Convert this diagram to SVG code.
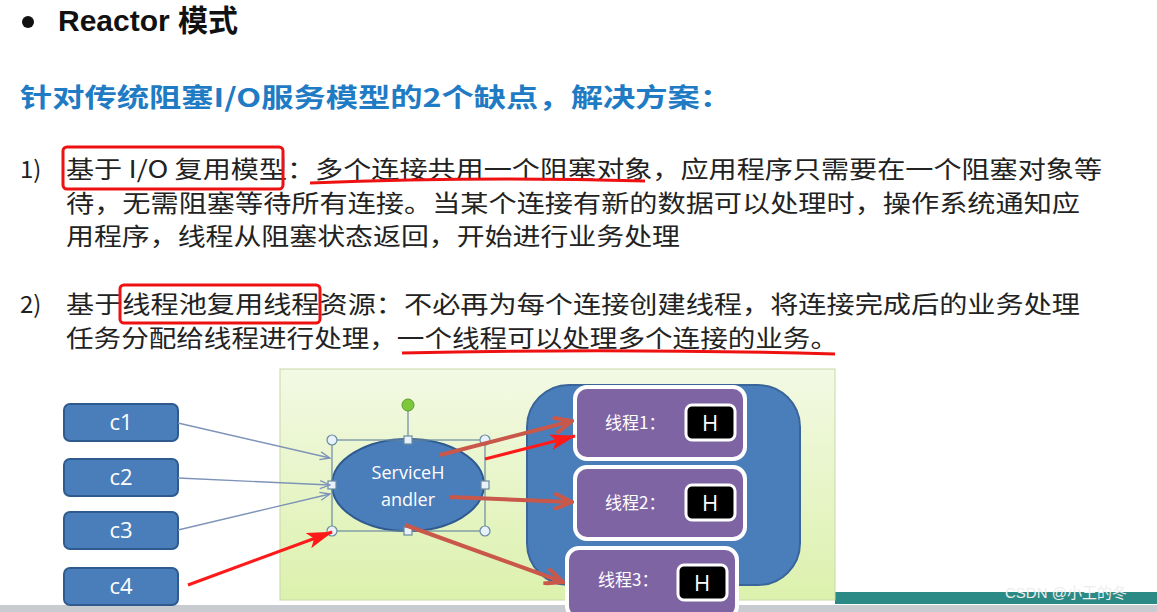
<svg xmlns="http://www.w3.org/2000/svg" width="1157" height="612" viewBox="0 0 1157 612">
<defs>
<style>
.t{font-family:"Noto Sans CJK SC","Liberation Sans",sans-serif;font-size:24px;fill:#222}
.c{font-family:"Open Sans","Liberation Sans",sans-serif;font-size:22px;fill:#fff;text-anchor:middle}
.th{font-family:"Noto Sans CJK SC",sans-serif;font-size:17px;fill:#fff}
.cb{fill:#4a7ebb;stroke:#2f5a8e;stroke-width:2}
.tb{fill:#7f64a4;stroke:#fff;stroke-width:4}
.hb{fill:#000;stroke:#fff;stroke-width:3}
.hl{font-family:"Open Sans","Liberation Sans",sans-serif;font-size:22px;fill:#fff;text-anchor:middle}
.rb{fill:none;stroke:#ee1111;stroke-width:3}
.hd{fill:#e8f2fa;stroke:#6a8aa0;stroke-width:1.2}
</style>
<linearGradient id="g" x1="0" y1="0" x2="0" y2="1"><stop offset="0" stop-color="#f3f9e4"/><stop offset="1" stop-color="#dcf1ad"/></linearGradient>
<marker id="ab" markerWidth="12" markerHeight="10" refX="11" refY="5" orient="auto" markerUnits="userSpaceOnUse"><path d="M1,1 L11,5 L1,9" fill="none" stroke="#7d93b8" stroke-width="1.3"/></marker>
<marker id="ar" markerWidth="22" markerHeight="18" refX="20" refY="9" orient="auto" markerUnits="userSpaceOnUse"><path d="M2,1 L20,9 L2,17" fill="none" stroke="#c9584a" stroke-width="4"/></marker>
<marker id="af" markerWidth="26" markerHeight="16" refX="25" refY="8" orient="auto" markerUnits="userSpaceOnUse"><path d="M0,0 L26,8 L0,16 L6,8 Z" fill="#ff1a1a"/></marker>
</defs>
<rect width="1157" height="612" fill="#fff"/>
<rect x="835" y="592" width="322" height="12" fill="#2c8a86"/>
<rect x="0" y="605" width="1157" height="7" fill="#c8ccd0"/>
<circle cx="28" cy="22" r="6" fill="#111"/>
<text x="58" y="31" font-family="Liberation Sans,Noto Sans CJK SC,sans-serif" font-size="30" font-weight="bold" fill="#111">Reactor 模式</text>
<text x="20" y="107" font-family="Noto Sans CJK SC,sans-serif" font-size="26" font-weight="bold" fill="#1f7bc4" textLength="712" lengthAdjust="spacingAndGlyphs">针对传统阻塞I/O服务模型的2个缺点，解决方案：</text>
<text class="t" x="20" y="178" font-family="Liberation Sans,sans-serif">1)</text>
<text class="t" x="66" y="178" textLength="1036" lengthAdjust="spacingAndGlyphs">基于 I/O 复用模型：多个连接共用一个阻塞对象，应用程序只需要在一个阻塞对象等</text>
<text class="t" x="66" y="212" textLength="1014" lengthAdjust="spacingAndGlyphs">待，无需阻塞等待所有连接。当某个连接有新的数据可以处理时，操作系统通知应</text>
<text class="t" x="66" y="245" textLength="614" lengthAdjust="spacingAndGlyphs">用程序，线程从阻塞状态返回，开始进行业务处理</text>
<text class="t" x="20" y="313" font-family="Liberation Sans,sans-serif">2)</text>
<text class="t" x="66" y="313" textLength="1014" lengthAdjust="spacingAndGlyphs">基于线程池复用线程资源：不必再为每个连接创建线程，将连接完成后的业务处理</text>
<text class="t" x="66" y="347" textLength="772" lengthAdjust="spacingAndGlyphs">任务分配给线程进行处理，一个线程可以处理多个连接的业务。</text>
<rect class="rb" x="63" y="147" width="220" height="42" rx="4"/>
<path d="M310,183 Q480,176 645,181" class="rb" stroke-width="4"/>
<rect class="rb" x="120" y="285" width="200" height="38" rx="4"/>
<path d="M402,353 Q620,348 835,354" class="rb" stroke-width="4"/>
<rect x="280" y="369" width="555" height="231" fill="url(#g)" stroke="#c8d8a8"/>
<g id="c1"><rect class="cb" x="64" y="404" width="114" height="37" rx="6"/><text class="c" x="121" y="430">c1</text></g>
<g id="c2"><rect class="cb" x="64" y="459" width="114" height="37" rx="6"/><text class="c" x="121" y="485">c2</text></g>
<g id="c3"><rect class="cb" x="64" y="512" width="114" height="37" rx="6"/><text class="c" x="121" y="538">c3</text></g>
<g id="c4"><rect class="cb" x="64" y="568" width="114" height="37" rx="6"/><text class="c" x="121" y="594">c4</text></g>
<g id="pool"><rect x="527" y="385" width="273" height="200" rx="42" fill="#4a7ebb" stroke="#3a659a" stroke-width="2"/></g>
<g id="t1"><rect class="tb" x="575" y="387" width="170" height="72" rx="12"/><text class="th" x="605" y="429">线程1：</text><rect class="hb" x="686" y="405" width="49" height="35" rx="6"/><text class="hl" x="710" y="431">H</text></g>
<g id="t2"><rect class="tb" x="575" y="467" width="170" height="72" rx="12"/><text class="th" x="605" y="509">线程2：</text><rect class="hb" x="686" y="485" width="49" height="35" rx="6"/><text class="hl" x="710" y="511">H</text></g>
<g id="t3"><rect class="tb" x="567" y="548" width="170" height="70" rx="12"/><text class="th" x="598" y="586">线程3：</text><rect class="hb" x="678" y="565" width="49" height="35" rx="6"/><text class="hl" x="702" y="591">H</text></g>
<g id="sh">
<line x1="408" y1="405" x2="408" y2="440" stroke="#6a8aa0" stroke-width="1.2"/>
<ellipse cx="408" cy="485" rx="76" ry="46" fill="#4a7ebb" stroke="#2f5a8e" stroke-width="2"/>
<rect x="332" y="440" width="153" height="91" fill="none" stroke="#6a8aa0" stroke-width="1.2"/>
<circle cx="408" cy="405" r="6" fill="#7cc83a" stroke="#5a9a2a"/>
<circle class="hd" cx="332" cy="440" r="5"/><circle class="hd" cx="485" cy="440" r="5"/><circle class="hd" cx="332" cy="531" r="5"/><circle class="hd" cx="485" cy="531" r="5"/>
<rect class="hd" x="404" y="436" width="8" height="8"/><rect class="hd" x="404" y="527" width="8" height="8"/><rect class="hd" x="328" y="481" width="8" height="8"/><rect class="hd" x="481" y="481" width="8" height="8"/>
<text class="c" x="408" y="479" style="font-size:18px" fill="#eef">ServiceH</text><text class="c" x="408" y="506" style="font-size:18px">andler</text>
</g>
<g id="connectors">
<line x1="178" y1="423" x2="330" y2="458" stroke="#7d93b8" stroke-width="1.3" marker-end="url(#ab)"/>
<line x1="178" y1="478" x2="330" y2="485" stroke="#7d93b8" stroke-width="1.3" marker-end="url(#ab)"/>
<line x1="178" y1="530" x2="330" y2="494" stroke="#7d93b8" stroke-width="1.3" marker-end="url(#ab)"/>
<line x1="440" y1="455" x2="572" y2="421" stroke="#c9584a" stroke-width="4" marker-end="url(#ar)"/>
<line x1="450" y1="497" x2="572" y2="502" stroke="#c9584a" stroke-width="4" marker-end="url(#ar)"/>
<line x1="405" y1="525" x2="563" y2="582" stroke="#c9584a" stroke-width="4" marker-end="url(#ar)"/>
<line x1="188" y1="585" x2="332" y2="532" stroke="#ff1a1a" stroke-width="3" marker-end="url(#af)"/>
<line x1="485" y1="459" x2="575" y2="436" stroke="#ff1a1a" stroke-width="3" marker-end="url(#af)"/>
</g>
<text x="1005" y="598" font-family="Liberation Sans,Noto Sans CJK SC,sans-serif" font-size="15" fill="#eee">CSDN @小王的冬</text>
</svg>
